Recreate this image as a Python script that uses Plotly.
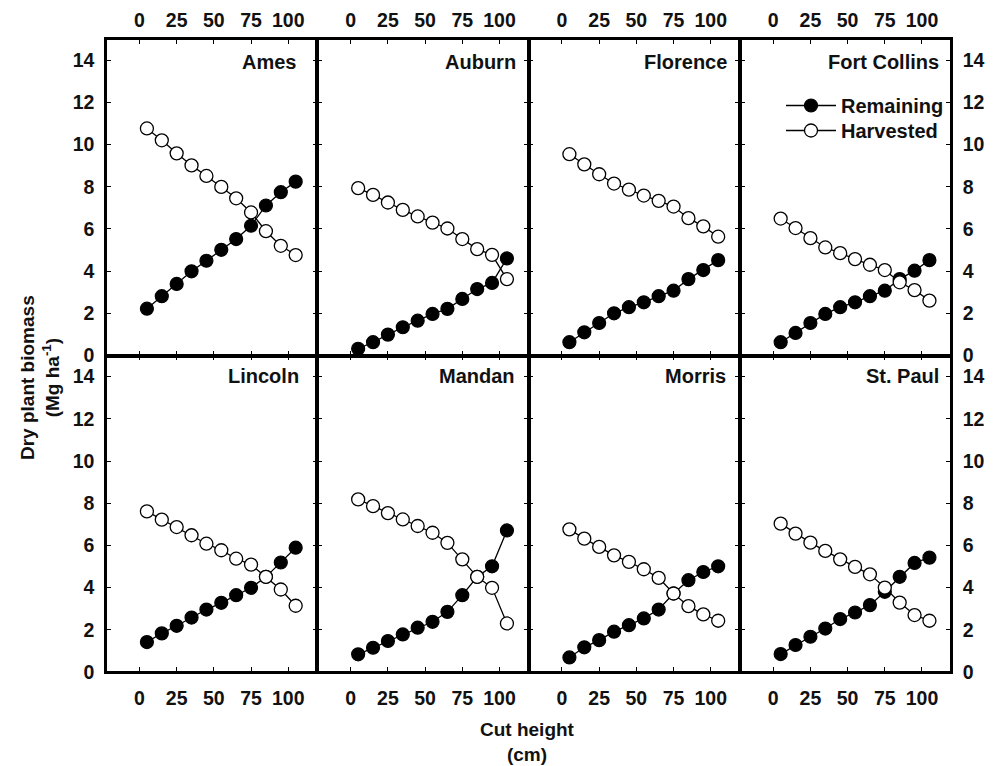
import plotly.graph_objects as go
from plotly.subplots import make_subplots

cut_height = [5, 15, 25, 35, 45, 55, 65, 75, 85, 95, 105]
x_ticks = [0, 25, 50, 75, 100]
y_ticks = [0, 2, 4, 6, 8, 10, 12, 14]

sites = ["Ames", "Auburn", "Florence", "Fort Collins",
         "Lincoln", "Mandan", "Morris", "St. Paul"]

remaining = {
    "Ames":         [2.22, 2.81, 3.39, 3.99, 4.49, 5.01, 5.52, 6.15, 7.11, 7.74, 8.24],
    "Auburn":       [0.32, 0.63, 0.99, 1.34, 1.65, 1.97, 2.21, 2.68, 3.15, 3.44, 4.60],
    "Florence":     [0.63, 1.10, 1.54, 2.00, 2.29, 2.52, 2.81, 3.07, 3.62, 4.05, 4.52],
    "Fort Collins": [0.63, 1.07, 1.54, 1.97, 2.29, 2.52, 2.81, 3.07, 3.62, 4.02, 4.52],
    "Lincoln":      [1.42, 1.83, 2.19, 2.58, 2.96, 3.28, 3.64, 3.99, 4.51, 5.19, 5.89],
    "Mandan":       [0.84, 1.15, 1.47, 1.78, 2.10, 2.38, 2.85, 3.64, 4.51, 5.01, 6.71],
    "Morris":       [0.69, 1.17, 1.51, 1.91, 2.22, 2.54, 2.96, 3.72, 4.35, 4.74, 5.01],
    "St. Paul":     [0.85, 1.28, 1.67, 2.06, 2.51, 2.82, 3.17, 3.80, 4.51, 5.17, 5.42],
}
harvested = {
    "Ames":         [10.76, 10.20, 9.58, 9.01, 8.51, 7.99, 7.45, 6.78, 5.89, 5.20, 4.76],
    "Auburn":       [7.93, 7.61, 7.25, 6.90, 6.59, 6.30, 6.02, 5.52, 5.04, 4.77, 3.62],
    "Florence":     [9.54, 9.06, 8.59, 8.15, 7.86, 7.58, 7.33, 7.06, 6.51, 6.12, 5.63],
    "Fort Collins": [6.49, 6.04, 5.56, 5.12, 4.85, 4.57, 4.30, 4.05, 3.47, 3.10, 2.60],
    "Lincoln":      [7.61, 7.22, 6.87, 6.48, 6.08, 5.77, 5.37, 5.09, 4.51, 3.91, 3.14],
    "Mandan":       [8.18, 7.86, 7.53, 7.23, 6.92, 6.60, 6.12, 5.34, 4.51, 3.99, 2.30],
    "Morris":       [6.76, 6.32, 5.93, 5.53, 5.22, 4.87, 4.46, 3.72, 3.12, 2.73, 2.43],
    "St. Paul":     [7.03, 6.56, 6.13, 5.74, 5.34, 4.98, 4.63, 4.00, 3.29, 2.70, 2.43],
}

FONT = "Liberation Sans, Arial, sans-serif"
W, H = 998, 766
ML, MR, MT, MB = 106, 47, 39, 94
PW = (W - ML - MR) / 4.0
PH = (H - MT - MB) / 2.0
AW = W - ML - MR
AH = H - MT - MB

fig = make_subplots(rows=2, cols=4, horizontal_spacing=0, vertical_spacing=0)

title_offsets = [19, 11, 11, 10, 16, 12, 12, 10]

for i, site in enumerate(sites):
    r = i // 4 + 1
    c = i % 4 + 1
    first = (i == 3)
    fig.add_trace(go.Scatter(
        x=cut_height, y=remaining[site], mode="lines+markers", name="Remaining",
        line=dict(color="black", width=1.3),
        marker=dict(symbol="circle", size=13, color="black", line=dict(color="black", width=1.2)),
        showlegend=first, legend="legend"), row=r, col=c)
    fig.add_trace(go.Scatter(
        x=cut_height, y=harvested[site], mode="lines+markers", name="Harvested",
        line=dict(color="black", width=1.3),
        marker=dict(symbol="circle", size=13, color="white", line=dict(color="black", width=1.3)),
        showlegend=first, legend="legend2"), row=r, col=c)
    ax = "" if i == 0 else str(i + 1)
    off = title_offsets[i]
    fig.add_annotation(
        text="<b>%s</b>" % site, xref="x%s domain" % ax, yref="y%s domain" % ax,
        x=1 - off / PW, y=1 - (23 if r == 1 else 20) / PH, xanchor="right", yanchor="middle",
        showarrow=False, font=dict(family=FONT, size=20, color="#111"))

tickfont = dict(family=FONT, size=19.5, color="#111", weight="bold")

for i in range(8):
    r = i // 4 + 1
    c = i % 4 + 1
    fig.update_xaxes(
        range=[-22.5, 119.5], tickvals=x_ticks, ticks="inside", ticklen=5, tickwidth=1.2,
        tickcolor="black", showline=True, linewidth=1.5, linecolor="black", mirror="ticks",
        showgrid=False, zeroline=False, side="top" if r == 1 else "bottom",
        showticklabels=True, tickfont=tickfont, ticklabelstandoff=2 if r == 1 else 8,
        automargin=False, row=r, col=c)
    fig.update_yaxes(
        range=[0, 15], tickvals=y_ticks, ticks="inside", ticklen=5, tickwidth=1.2,
        tickcolor="black", showline=True, linewidth=1.5, linecolor="black", mirror="ticks",
        showgrid=False, zeroline=False, side="right" if c == 4 else "left",
        showticklabels=(c == 1 or c == 4), tickfont=tickfont, ticklabelstandoff=6,
        automargin=False, row=r, col=c)

# outer frame thickening
fig.add_shape(type="rect", xref="paper", yref="paper", x0=0, x1=1, y0=0, y1=1,
              line=dict(color="black", width=2), fillcolor="rgba(0,0,0,0)", layer="above")

fig.add_annotation(
    text="<b>Cut height</b><br><b>(cm)</b>", xref="paper", yref="paper",
    x=(527 - ML) / AW, y=-(742 - (H - MB)) / AH,
    xanchor="center", yanchor="middle", showarrow=False, align="center",
    font=dict(family=FONT, size=19, color="#111"))

fig.add_annotation(
    text="<b>Dry plant biomass</b><br><b>(Mg ha<sup>-1</sup>)</b>", xref="paper", yref="paper",
    x=-(ML - 40) / AW, y=(H - MB - 378) / AH,
    xanchor="center", yanchor="middle", showarrow=False, align="center", textangle=-90,
    font=dict(family=FONT, size=19, color="#111"))

leg_common = dict(xanchor="left", yanchor="top", bgcolor="rgba(0,0,0,0)",
                  font=dict(family=FONT, size=20, color="#111", weight="bold"),
                  itemwidth=50)

fig.update_layout(
    width=W, height=H, margin=dict(l=ML, r=MR, t=MT, b=MB, autoexpand=False),
    paper_bgcolor="white", plot_bgcolor="white",
    legend=dict(x=(781 - ML) / AW, y=(H - MB - 86) / AH, **leg_common),
    legend2=dict(x=(781 - ML) / AW, y=(H - MB - 111) / AH, **leg_common),
    font=dict(family=FONT),
)

fig.write_html("out.html")
